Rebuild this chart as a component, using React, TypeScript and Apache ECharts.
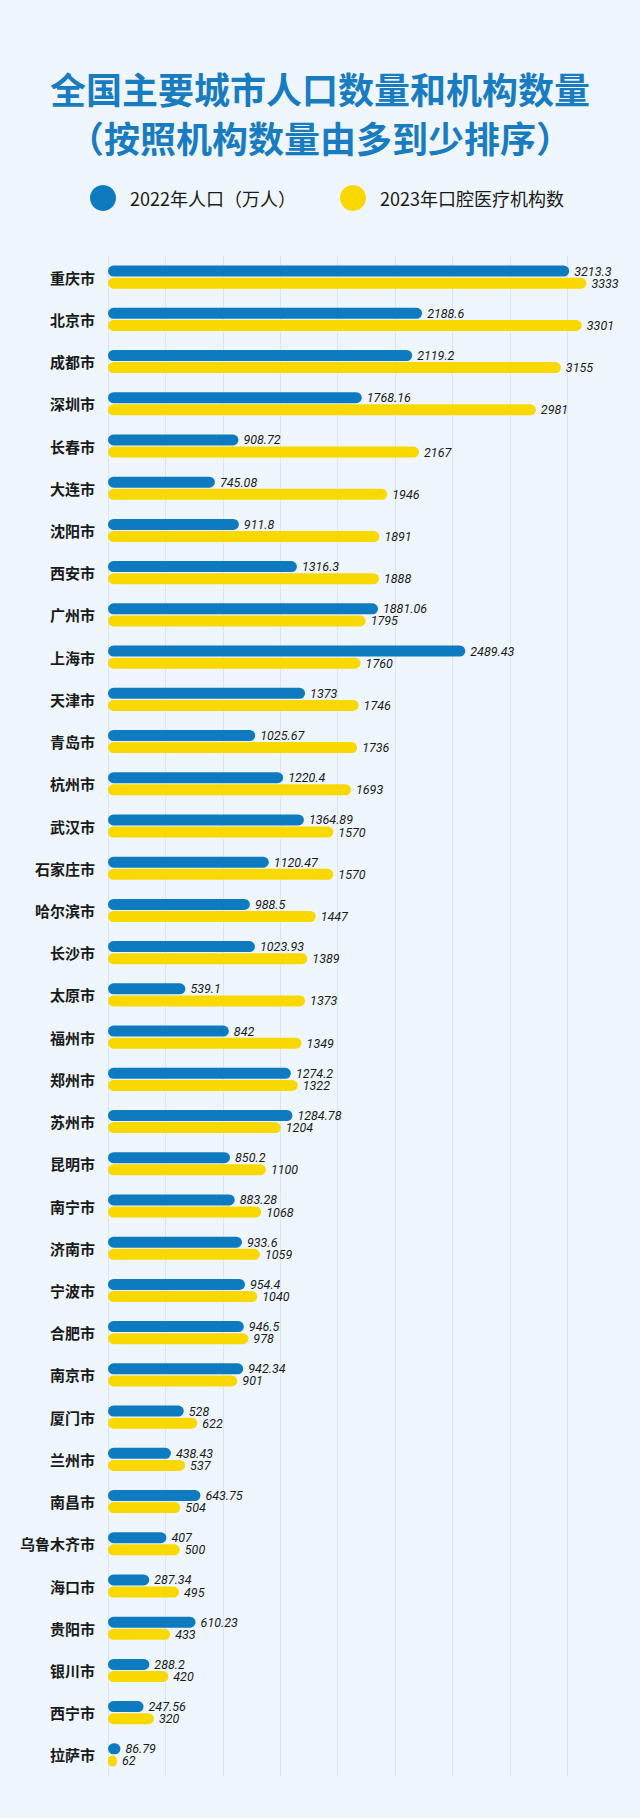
import React, { useEffect, useRef } from "react";
import * as echarts from "echarts";

const cities = [
  "重庆市", "北京市", "成都市", "深圳市", "长春市", "大连市", "沈阳市", "西安市", "广州市", "上海市",
  "天津市", "青岛市", "杭州市", "武汉市", "石家庄市", "哈尔滨市", "长沙市", "太原市", "福州市", "郑州市",
  "苏州市", "昆明市", "南宁市", "济南市", "宁波市", "合肥市", "南京市", "厦门市", "兰州市", "南昌市",
  "乌鲁木齐市", "海口市", "贵阳市", "银川市", "西宁市", "拉萨市",
];

const population2022 = [
  3213.3, 2188.6, 2119.2, 1768.16, 908.72, 745.08, 911.8, 1316.3, 1881.06, 2489.43,
  1373, 1025.67, 1220.4, 1364.89, 1120.47, 988.5, 1023.93, 539.1, 842, 1274.2,
  1284.78, 850.2, 883.28, 933.6, 954.4, 946.5, 942.34, 528, 438.43, 643.75,
  407, 287.34, 610.23, 288.2, 247.56, 86.79,
];

const clinics2023 = [
  3333, 3301, 3155, 2981, 2167, 1946, 1891, 1888, 1795, 1760,
  1746, 1736, 1693, 1570, 1570, 1447, 1389, 1373, 1349, 1322,
  1204, 1100, 1068, 1059, 1040, 978, 901, 622, 537, 504,
  500, 495, 433, 420, 320, 62,
];

const seriesNames = ["2022年人口（万人）", "2023年口腔医疗机构数"];
const titleText = "全国主要城市人口数量和机构数量\n（按照机构数量由多到少排序）";

const BLUE = "#0e7bc1";
const YELLOW = "#f9d800";
const CJK = '"Noto Sans CJK SC", "Noto Sans", sans-serif';
const NUM = 'Roboto, "Noto Sans", sans-serif';

export default function App() {
  const ref = useRef<HTMLDivElement>(null);

  useEffect(() => {
    document.body.style.margin = "0";
    if (!ref.current) return;
    const chart = echarts.init(ref.current, undefined, { renderer: "svg" });
    const labelStyle = {
      show: true,
      position: "right",
      distance: 5,
      fontSize: 12.5,
      lineHeight: 11,
      fontStyle: "italic",
      fontFamily: NUM,
      color: "#1a1a1a",
    };
    chart.setOption({
      animation: false,
      backgroundColor: "#eef6fc",
      title: {
        text: titleText,
        left: "center",
        top: 58,
        padding: 5,
        textStyle: {
          fontSize: 36,
          lineHeight: 49,
          fontWeight: "bold",
          fontFamily: CJK,
          color: "#1a7cc0",
        },
      },
      legend: {
        data: seriesNames,
        left: 90,
        top: 185,
        padding: 0,
        icon: "circle",
        itemWidth: 26,
        itemHeight: 26,
        itemGap: 44,
        textStyle: {
          fontSize: 18,
          fontFamily: CJK,
          color: "#1a1a1a",
          padding: [0, 0, 0, 9],
        },
      },
      grid: { left: 108, right: 44, top: 256, bottom: 42 },
      xAxis: {
        type: "value",
        min: 0,
        max: 3400,
        interval: 400,
        axisLabel: { show: false },
        axisLine: { show: false },
        axisTick: { show: false },
        splitLine: {
          show: true,
          showMinLine: true,
          showMaxLine: false,
          lineStyle: { color: "#dbe5ee", width: 1 },
        },
      },
      yAxis: {
        type: "category",
        data: cities,
        inverse: true,
        axisLine: { show: false },
        axisTick: { show: false },
        axisLabel: {
          margin: 13,
          fontSize: 15,
          fontWeight: "bold",
          fontFamily: CJK,
          color: "#1a1a1a",
        },
      },
      series: [
        {
          name: seriesNames[0],
          type: "bar",
          data: population2022,
          barWidth: 11,
          barGap: "10%",
          itemStyle: { color: BLUE, borderRadius: 6 },
          label: labelStyle,
        },
        {
          name: seriesNames[1],
          type: "bar",
          data: clinics2023,
          barWidth: 11,
          barGap: "10%",
          itemStyle: { color: YELLOW, borderRadius: 6 },
          label: labelStyle,
        },
      ],
    });
    return () => chart.dispose();
  }, []);

  return (
    <div
      ref={ref}
      style={{ position: "absolute", left: 0, top: 0, width: 640, height: 1818 }}
    />
  );
}
